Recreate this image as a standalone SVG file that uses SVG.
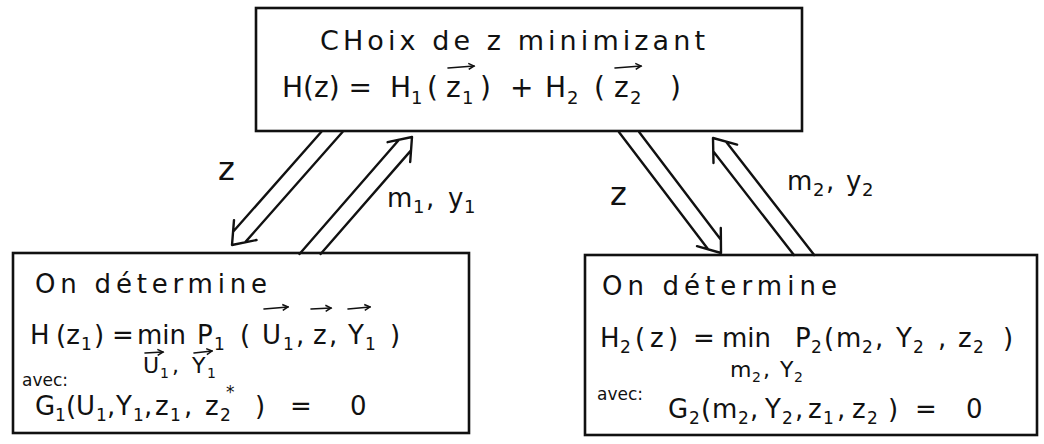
<svg xmlns="http://www.w3.org/2000/svg" width="1044" height="444" viewBox="0 0 1044 444">
<style>
.box{fill:#fff;stroke:#111;stroke-width:2.6}
.ln{fill:none;stroke:#111;stroke-width:2.4;stroke-linecap:round;stroke-linejoin:round}
.va{fill:none;stroke:#111;stroke-width:1.6;stroke-linecap:round}
text{font-family:"DejaVu Sans","Liberation Sans",sans-serif;fill:#111;font-size:26px}
.big{font-size:28px}
.h1{font-size:27px}
.s{font-size:17px}
.sb{font-size:18px}
.ss{font-size:14px}
.u{font-size:22px}
.sm{font-size:17px}
.z{font-size:32px}
</style>
<defs>
<marker id="vh" markerWidth="8" markerHeight="8" refX="6.5" refY="4" orient="auto" markerUnits="userSpaceOnUse">
<path d="M1,1 L6.5,4 L1,7" fill="none" stroke="#111" stroke-width="1.5"/>
</marker>
</defs>
<rect width="1044" height="444" fill="#fff"/>

<g id="node-top">
<rect class="box" x="256" y="8" width="546" height="123"/>
<text class="h1" x="320" y="50" textLength="385">CHoix de z minimizant</text>
<text class="big" y="97"><tspan x="282">H(z) =</tspan><tspan x="390">H</tspan><tspan class="sb" x="411" y="104">1</tspan><tspan x="427" y="97">(</tspan><tspan x="446" y="97">z</tspan><tspan class="sb" x="462" y="104">1</tspan><tspan x="480" y="97">)</tspan><tspan x="510" y="97">+</tspan><tspan x="545" y="97">H</tspan><tspan class="sb" x="567" y="104">2</tspan><tspan x="594" y="97">(</tspan><tspan x="614" y="97">z</tspan><tspan class="sb" x="630" y="104">2</tspan><tspan x="670" y="97">)</tspan></text>
<path class="va" d="M448,68 L474,66" marker-end="url(#vh)"/>
<path class="va" d="M615,68 L641,66" marker-end="url(#vh)"/>
</g>

<g id="node-left">
<rect class="box" x="13" y="253" width="456" height="180"/>
<text x="35" y="293" textLength="232">On détermine</text>
<text y="344"><tspan x="30">H</tspan><tspan x="56">(z</tspan><tspan class="s" x="81" y="350">1</tspan><tspan x="94" y="344">)</tspan><tspan x="112" y="344">=</tspan><tspan x="137" y="344">min</tspan><tspan x="197" y="344">P</tspan><tspan class="s" x="214" y="350">1</tspan><tspan x="240" y="344">(</tspan><tspan x="262" y="344">U</tspan><tspan class="s" x="283" y="350">1</tspan><tspan x="296" y="344">,</tspan><tspan x="313" y="344">z</tspan><tspan x="329" y="344">,</tspan><tspan x="348" y="344">Y</tspan><tspan class="s" x="365" y="350">1</tspan><tspan x="390" y="344">)</tspan></text>
<path class="va" d="M264,309 L288,307" marker-end="url(#vh)"/>
<path class="va" d="M311,309 L331,308" marker-end="url(#vh)"/>
<path class="va" d="M348,309 L370,307" marker-end="url(#vh)"/>
<text class="u" y="373"><tspan x="143">U</tspan><tspan class="ss" x="160" y="378">1</tspan><tspan x="172" y="373">,</tspan><tspan x="192" y="373">Y</tspan><tspan class="ss" x="207" y="378">1</tspan></text>
<path class="va" d="M145,353 L163,352" marker-end="url(#vh)"/>
<path class="va" d="M194,353 L212,351" marker-end="url(#vh)"/>
<text class="sm" x="22" y="386">avec:</text>
<text y="415"><tspan x="35">G</tspan><tspan class="s" x="55" y="421">1</tspan><tspan x="66" y="415">(</tspan><tspan x="76" y="415">U</tspan><tspan class="s" x="96" y="421">1</tspan><tspan x="107" y="415">,</tspan><tspan x="116" y="415">Y</tspan><tspan class="s" x="133" y="421">1</tspan><tspan x="144" y="415">,</tspan><tspan x="155" y="415">z</tspan><tspan class="s" x="170" y="421">1</tspan><tspan x="184" y="415">,</tspan><tspan x="205" y="415">z</tspan><tspan class="s" x="220" y="421">2</tspan><tspan class="s" x="226" y="398">*</tspan><tspan x="255" y="415">)</tspan><tspan x="290" y="415">=</tspan><tspan x="350" y="415">0</tspan></text>
</g>

<g id="node-right">
<rect class="box" x="585" y="255" width="452" height="180"/>
<text x="602" y="295" textLength="235">On détermine</text>
<text y="347"><tspan x="600">H</tspan><tspan class="s" x="620" y="353">2</tspan><tspan x="635" y="347">(</tspan><tspan x="650" y="347">z</tspan><tspan x="668" y="347">)</tspan><tspan x="693" y="347">=</tspan><tspan x="722" y="347">min</tspan><tspan x="795" y="347">P</tspan><tspan class="s" x="811" y="353">2</tspan><tspan x="824" y="347">(</tspan><tspan x="836" y="347">m</tspan><tspan class="s" x="862" y="353">2</tspan><tspan x="875" y="347">,</tspan><tspan x="896" y="347">Y</tspan><tspan class="s" x="913" y="353">2</tspan><tspan x="938" y="347">,</tspan><tspan x="958" y="347">z</tspan><tspan class="s" x="973" y="353">2</tspan><tspan x="1003" y="347">)</tspan></text>
<text class="u" y="377"><tspan x="730">m</tspan><tspan class="ss" x="752" y="382">2</tspan><tspan x="763" y="377">,</tspan><tspan x="780" y="377">Y</tspan><tspan class="ss" x="794" y="382">2</tspan></text>
<text class="sm" x="597" y="400">avec:</text>
<text y="418"><tspan x="668">G</tspan><tspan class="s" x="689" y="424">2</tspan><tspan x="701" y="418">(</tspan><tspan x="712" y="418">m</tspan><tspan class="s" x="738" y="424">2</tspan><tspan x="750" y="418">,</tspan><tspan x="765" y="418">Y</tspan><tspan class="s" x="782" y="424">2</tspan><tspan x="795" y="418">,</tspan><tspan x="808" y="418">z</tspan><tspan class="s" x="823" y="424">1</tspan><tspan x="837" y="418">,</tspan><tspan x="852" y="418">z</tspan><tspan class="s" x="867" y="424">2</tspan><tspan x="888" y="418">)</tspan><tspan x="915" y="418">=</tspan><tspan x="966" y="418">0</tspan></text>
</g>

<g id="connectors">
<g id="arrow-z-left">
<path class="ln" d="M342.5,132 L245.3,242.1 M321.2,132 L233.3,231.5 M234,220.1 L232,245 L256.5,240"/>
<text class="z" x="218" y="180">z</text>
</g>
<g id="arrow-m1y1">
<path class="ln" d="M320.6,254 L410.8,150.6 M299.5,254 L398.8,140 M410.2,162 L412,137 L387.6,142.2"/>
<text y="207"><tspan x="387">m</tspan><tspan class="sb" x="413" y="213">1</tspan><tspan x="426" y="207">,</tspan><tspan x="448" y="207">y</tspan><tspan class="sb" x="464" y="213">1</tspan></text>
</g>
<g id="arrow-z-right">
<path class="ln" d="M618.9,132 L707.9,249 M639.1,132 L720.7,239.4 M697,246.2 L721,253 L720.8,228"/>
<text class="z" x="610" y="205">z</text>
</g>
<g id="arrow-m2y2">
<path class="ln" d="M814.2,255 L726.1,141.8 M793.9,255 L713.4,151.6 M737.1,144.6 L713,138 L713.5,163"/>
<text y="190"><tspan x="787">m</tspan><tspan class="sb" x="813" y="196">2</tspan><tspan x="826" y="190">,</tspan><tspan x="846" y="190">y</tspan><tspan class="sb" x="862" y="196">2</tspan></text>
</g>
</g>
</svg>
